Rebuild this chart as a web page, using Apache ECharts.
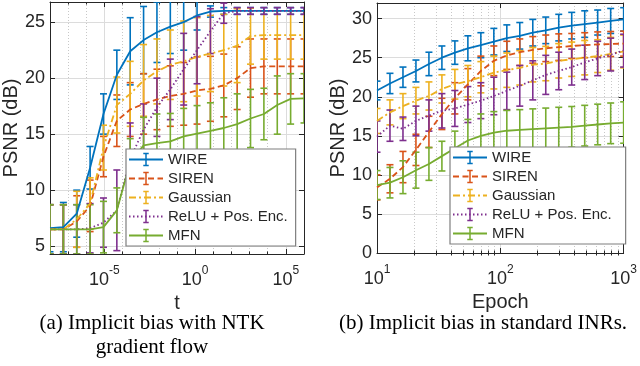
<!DOCTYPE html>
<html><head><meta charset="utf-8">
<script src="https://cdn.jsdelivr.net/npm/echarts@6/dist/echarts.min.js"></script>
<style>html,body{margin:0;padding:0;background:#fff}#c{width:640px;height:366px}</style>
</head><body><div id="c"></div>
<script>
// ---------- data ----------
const names = ['WIRE', 'SIREN', 'Gaussian', 'ReLU + Pos. Enc.', 'MFN'];

// (a) NTK gradient flow: time t
const tLeft = [1e-8, 5.456e-8, 2.976e-7, 1.624e-6, 8.859e-6, 4.833e-5, 2.637e-4, 1.438e-3, 7.848e-3, 4.281e-2,
  0.2336, 1.274, 6.952, 37.93, 206.9, 1129, 6158, 33598, 183299, 1e6];
const wireL = [6.6, 6.7, 7.9, 12.0, 16.8, 20.3, 22.4, 23.4, 24.1, 24.6, 25.0, 25.6, 25.95, 26.0, 26.0, 26.0, 26.0, 26.0, 26.0, 26.0];
const wireLerr = [2.1, 2.2, 2.1, 1.9, 1.8, 2.2, 3.0, 3.0, 2.7, 2.4, 2.5, 1.3, 0.5, 0.3, 0.3, 0.3, 0.3, 0.3, 0.3, 0.3];
const sirenL = [6.5, 6.5, 7.2, 8.6, 13.0, 16.2, 17.2, 17.7, 18.1, 18.4, 18.6, 18.9, 19.05, 19.35, 20.0, 20.9, 21.05, 21.05, 21.05, 21.05];
const sirenLerr = [2.2, 2.2, 2.3, 2.3, 1.8, 2.3, 2.4, 2.7, 2.7, 2.7, 2.8, 3.0, 2.9, 2.8, 2.8, 2.6, 2.45, 2.45, 2.45, 2.45];
const gaussL = [6.5, 6.5, 7.4, 8.8, 13.8, 17.6, 18.6, 19.8, 20.6, 21.2, 21.5, 21.9, 22.2, 22.5, 22.9, 23.75, 23.85, 23.85, 23.85, 23.85];
const gaussLerr = [2.2, 2.2, 2.5, 2.3, 2.0, 2.5, 2.9, 3.2, 2.9, 3.1, 3.6, 3.5, 3.4, 3.2, 3.3, 2.5, 2.15, 2.15, 2.15, 2.15];
const reluL = [6.5, 6.5, 6.5, 6.6, 7.1, 8.2, 12.8, 15.4, 17.4, 19.0, 20.8, 22.5, 24.2, 25.8, 26.0, 26.0, 26.0, 26.0, 26.0, 26.0];
const reluLerr = [2.2, 2.2, 2.2, 2.2, 2.2, 3.6, 3.2, 2.3, 2.6, 2.7, 3.2, 3.0, 2.0, 0.9, 0.3, 0.3, 0.3, 0.3, 0.3, 0.3];
const mfnL = [6.5, 6.5, 6.5, 6.5, 6.7, 8.2, 12.5, 14.0, 14.2, 14.35, 14.8, 15.05, 15.3, 15.55, 15.9, 16.4, 16.8, 17.6, 18.15, 18.2];
const mfnLerr = [2.2, 2.2, 2.2, 2.2, 2.3, 2.0, 2.1, 2.5, 2.6, 2.5, 2.5, 2.5, 2.5, 2.7, 2.7, 2.6, 2.3, 2.6, 2.25, 2.2];

// (b) standard INRs: epoch
const epochR = [10, 12.74, 16.24, 20.69, 26.37, 33.6, 42.81, 54.56, 69.52, 88.59,
  112.9, 143.8, 183.3, 233.6, 297.6, 379.3, 483.3, 615.8, 784.8, 1000];
const wireR = [20.8, 21.7, 22.5, 23.3, 24.2, 25.0, 25.65, 26.2, 26.6, 27.05, 27.5, 27.8, 28.2, 28.5, 28.85, 29.1, 29.3, 29.5, 29.7, 29.9];
const wireRerr = [1.2, 1.3, 1.3, 1.4, 1.5, 1.5, 1.5, 1.6, 1.6, 1.7, 1.7, 1.7, 1.7, 1.7, 1.7, 1.7, 1.7, 1.6, 1.6, 1.5];
const sirenR = [8.4, 9.5, 11.0, 13.2, 15.5, 17.8, 19.8, 21.6, 23.3, 24.6, 25.3, 25.7, 26.0, 26.2, 26.35, 26.5, 26.6, 26.7, 26.75, 26.8];
const sirenRerr = [1.6, 1.8, 2.0, 2.0, 2.0, 2.0, 2.0, 2.0, 1.9, 1.9, 1.8, 1.7, 1.7, 1.7, 1.7, 1.6, 1.6, 1.6, 1.6, 1.6];
const gaussR = [16.9, 18.0, 18.8, 19.5, 20.1, 21.0, 21.6, 22.0, 22.5, 23.1, 23.4, 23.7, 24.1, 24.25, 24.6, 24.8, 25.0, 25.2, 25.5, 25.8];
const gaussRerr = [1.6, 1.6, 1.6, 1.7, 1.8, 1.8, 1.9, 2.0, 2.0, 2.1, 2.2, 2.2, 2.2, 2.2, 2.2, 2.2, 2.2, 2.1, 2.1, 2.1];
const reluR = [14.9, 16.3, 15.9, 16.9, 17.6, 18.2, 18.5, 19.0, 19.5, 20.1, 20.75, 21.4, 22.1, 22.8, 23.3, 23.8, 24.4, 24.9, 25.4, 25.9];
const reluRerr = [2.0, 2.0, 1.5, 1.9, 2.0, 2.2, 2.3, 2.3, 2.3, 2.4, 2.4, 2.6, 2.5, 2.5, 2.4, 2.3, 2.2, 2.2, 2.1, 2.1];
const mfnR = [8.7, 9.0, 9.7, 10.6, 11.4, 12.4, 13.4, 14.4, 15.0, 15.4, 15.65, 15.75, 15.85, 15.95, 16.05, 16.15, 16.3, 16.45, 16.6, 16.7];
const mfnRerr = [1.85, 1.95, 2.1, 2.3, 2.1, 1.9, 2.2, 2.7, 2.8, 2.7, 2.6, 2.6, 2.6, 2.6, 2.6, 2.6, 2.6, 2.6, 2.6, 2.65];

// tick values
const leftMajorX = [1e-5, 1, 1e5];
const leftMinorX = [1e-8, 1e-7, 1e-6, 1e-4, 1e-3, 1e-2, 1e-1, 10, 100, 1e3, 1e4, 1e6];
const leftYTicks = [5, 10, 15, 20, 25];
const rightMajorX = [10, 100, 1000];
const rightMinorX = [20, 30, 40, 50, 60, 70, 80, 90, 200, 300, 400, 500, 600, 700, 800, 900];
const rightYTicks = [0, 5, 10, 15, 20, 25, 30];

// ---------- style ----------
const colors = ['#0072BD', '#D95319', '#EDB120', '#7E2F8E', '#77AC30'];
const dashes = ['solid', [6, 3.5], [7, 3, 2, 3], [1.5, 2.5], 'solid'];
const AX = '#262626';
const FONT = 'Liberation Sans, Arial, sans-serif';
const glyph = 'path://M0,0L0,0M20,20L20,20M6,0H14V2.4H11.1V17.6H14V20H6V17.6H8.9V2.4H6Z';
const LEFT_Y = [4.3, 26.8];
const RIGHT_Y = [0, 32];

const expLabel = v => '{b|10}{s|' + Math.round(Math.log10(v)) + '}';
const richSup = {
  b: { fontSize: 18, lineHeight: 24, verticalAlign: 'bottom', color: AX, fontFamily: FONT },
  s: { fontSize: 12, lineHeight: 15, verticalAlign: 'top', color: AX, fontFamily: FONT }
};

function xAxes(grid, min, max, major, minor, name, nameGap) {
  return [
    { gridIndex: grid, type: 'log', logBase: 10, position: 'bottom', min, max,
      name, nameLocation: 'middle', nameGap,
      nameTextStyle: { fontSize: 20, color: AX, fontFamily: FONT },
      axisLine: { show: true, onZero: false, lineStyle: { color: AX, width: 1 } },
      axisTick: { show: true, inside: true, length: 5, customValues: major, lineStyle: { color: AX } },
      axisLabel: { show: true, customValues: major, formatter: expLabel, rich: richSup, margin: 11,
        hideOverlap: false, showMinLabel: true, showMaxLabel: true },
      splitLine: { show: true, lineStyle: { color: '#dcdcdc', width: 1 } },
      minorTick: { show: false } },
    { gridIndex: grid, type: 'log', logBase: 10, position: 'bottom', min, max,
      axisLine: { show: false },
      axisTick: { show: true, inside: true, length: 2.5, customValues: minor, lineStyle: { color: AX } },
      axisLabel: { show: false },
      splitLine: { show: true, lineStyle: { color: '#c8c8c8', width: 1, type: [1, 2] } } },
    { gridIndex: grid, type: 'log', logBase: 10, position: 'top', min, max,
      axisLine: { show: true, onZero: false, lineStyle: { color: AX, width: 1 } },
      axisTick: { show: true, inside: true, length: 5, customValues: major, lineStyle: { color: AX } },
      axisLabel: { show: false }, splitLine: { show: false } },
    { gridIndex: grid, type: 'log', logBase: 10, position: 'top', min, max,
      axisLine: { show: false },
      axisTick: { show: true, inside: true, length: 2.5, customValues: minor, lineStyle: { color: AX } },
      axisLabel: { show: false }, splitLine: { show: false } }
  ];
}

function yAxes(grid, range, ticks, nameGap) {
  return [
    { gridIndex: grid, type: 'value', position: 'left', min: range[0], max: range[1],
      name: 'PSNR (dB)', nameLocation: 'middle', nameGap,
      nameTextStyle: { fontSize: 20, color: AX, fontFamily: FONT },
      axisLine: { show: true, onZero: false, lineStyle: { color: AX, width: 1 } },
      axisTick: { show: true, inside: true, length: 5, customValues: ticks, lineStyle: { color: AX } },
      axisLabel: { show: true, customValues: ticks, fontSize: 18, color: AX, fontFamily: FONT, margin: 5 },
      splitLine: { show: true, lineStyle: { color: '#dcdcdc', width: 1 } } },
    { gridIndex: grid, type: 'value', position: 'right', min: range[0], max: range[1],
      axisLine: { show: true, onZero: false, lineStyle: { color: AX, width: 1 } },
      axisTick: { show: true, inside: true, length: 5, customValues: ticks, lineStyle: { color: AX } },
      axisLabel: { show: false }, splitLine: { show: false } }
  ];
}

const series = [];
function addSeries(xs, means, errs, k, xi, yi, yr) {
  const hw = 3.5;
  series.push({
    type: 'custom', name: names[k] + ' bars', xAxisIndex: xi, yAxisIndex: yi, clip: true, silent: true,
    data: xs.map((x, i) => [x, means[i], errs[i]]),
    encode: { x: 0, y: 1 },
    renderItem(params, api) {
      const x = api.value(0), m = api.value(1), e = api.value(2);
      const hiV = Math.min(m + e, yr[1]), loV = Math.max(m - e, yr[0]);
      const p1 = api.coord([x, hiV]), p2 = api.coord([x, loV]);
      const st = { stroke: colors[k], lineWidth: 1.6, fill: null };
      const ch = [{ type: 'line', shape: { x1: p1[0], y1: p1[1], x2: p2[0], y2: p2[1] }, style: st }];
      if (m + e <= yr[1]) ch.push({ type: 'line', shape: { x1: p1[0] - hw, y1: p1[1], x2: p1[0] + hw, y2: p1[1] }, style: st });
      if (m - e >= yr[0]) ch.push({ type: 'line', shape: { x1: p2[0] - hw, y1: p2[1], x2: p2[0] + hw, y2: p2[1] }, style: st });
      return { type: 'group', children: ch };
    }
  });
  series.push({
    type: 'line', name: names[k], xAxisIndex: xi, yAxisIndex: yi,
    data: xs.map((x, i) => [x, means[i]]),
    showSymbol: false, symbol: glyph, color: colors[k], silent: true,
    itemStyle: { color: colors[k], borderWidth: 0 },
    lineStyle: { color: colors[k], width: 1.8, type: dashes[k] }
  });
}

const leftSets = [[wireL, wireLerr], [sirenL, sirenLerr], [gaussL, gaussLerr], [reluL, reluLerr], [mfnL, mfnLerr]];
const rightSets = [[wireR, wireRerr], [sirenR, sirenRerr], [gaussR, gaussRerr], [reluR, reluRerr], [mfnR, mfnRerr]];
leftSets.forEach((s, k) => addSeries(tLeft, s[0], s[1], k, 0, 0, LEFT_Y));
rightSets.forEach((s, k) => addSeries(epochR, s[0], s[1], k, 4, 2, RIGHT_Y));

function legend(left, top, padR) {
  return {
    orient: 'vertical', left, top, itemWidth: 34, itemHeight: 17, itemGap: 4,
    padding: [3, padR, 3, 2], borderColor: '#7f7f7f', borderWidth: 1.2, backgroundColor: '#ffffff',
    selectedMode: false, data: names,
    itemStyle: { borderWidth: 0 },
    textStyle: { fontSize: 15, color: AX, fontFamily: FONT }
  };
}

const chart = echarts.init(document.getElementById('c'), null, { renderer: 'canvas' });
const capFont = '21px "Liberation Serif", "Times New Roman", serif';
chart.setOption({
  animation: false,
  backgroundColor: '#ffffff',
  grid: [
    { left: 50, top: 2, width: 254, height: 252 },
    { left: 377, top: 3, width: 248, height: 250 }
  ],
  xAxis: [].concat(
    xAxes(0, 1e-8, 1e6, leftMajorX, leftMinorX, 't', 33),
    xAxes(1, 10, 1000, rightMajorX, rightMinorX, 'Epoch', 32)
  ),
  yAxis: [].concat(
    yAxes(0, LEFT_Y, leftYTicks, 27),
    yAxes(1, RIGHT_Y, rightYTicks, 28)
  ),
  legend: [legend(126, 149, 8), legend(450, 147, 14)],
  series,
  graphic: [
    { type: 'text', x: 152, y: 323, style: { text: '(a) Implicit bias with NTK', font: capFont, fill: '#000', align: 'center', verticalAlign: 'middle' } },
    { type: 'text', x: 152, y: 347, style: { text: 'gradient flow', font: capFont, fill: '#000', align: 'center', verticalAlign: 'middle' } },
    { type: 'text', x: 483, y: 323, style: { text: '(b) Implicit bias in standard INRs.', font: capFont, fill: '#000', align: 'center', verticalAlign: 'middle' } }
  ]
});
</script>
</body></html>
